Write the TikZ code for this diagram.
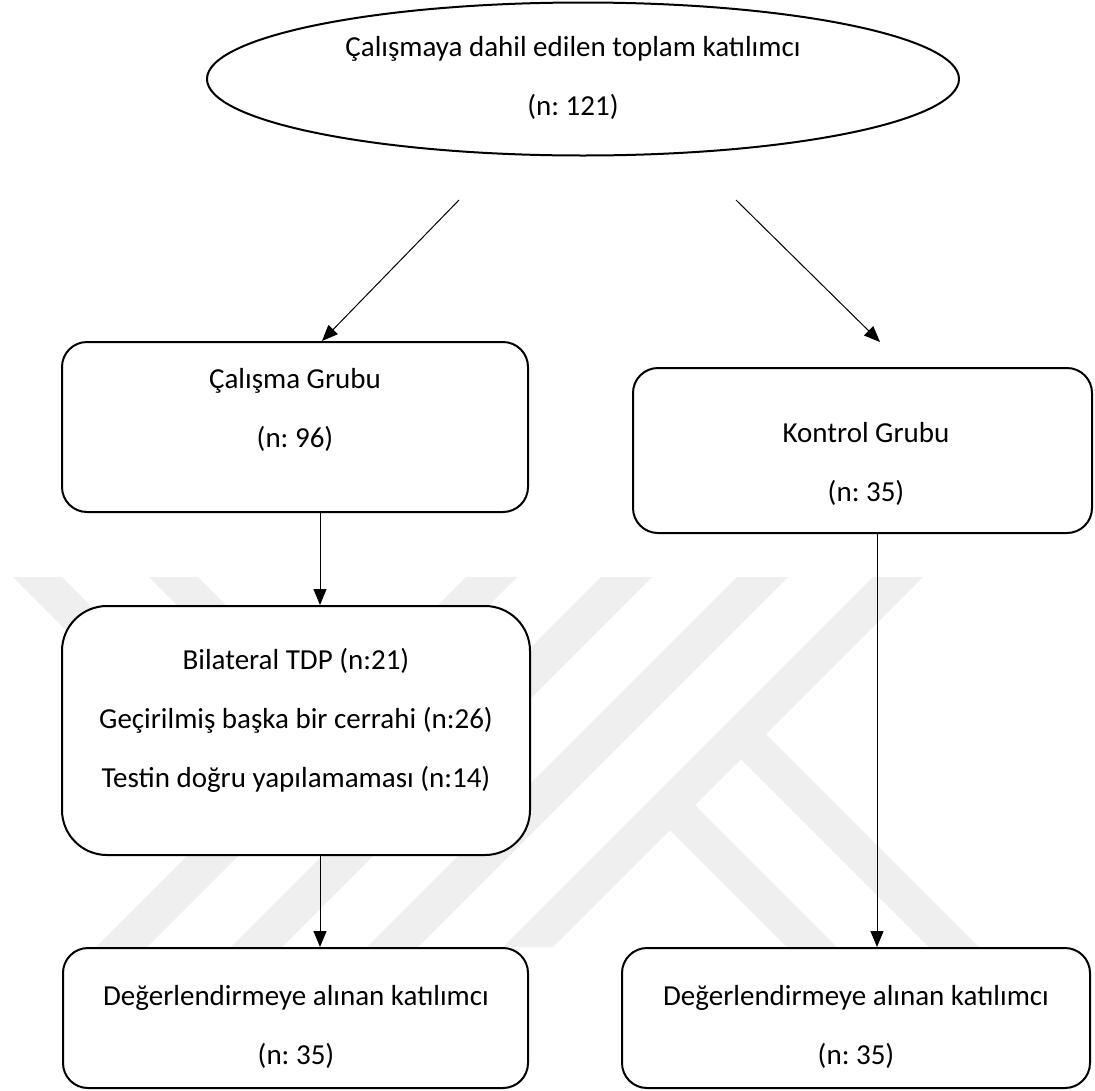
\documentclass[tikz,border=0pt]{standalone}
\usepackage{fontspec}
\setmainfont{Carlito}
\frenchspacing
\usetikzlibrary{shapes.geometric,arrows.meta}
\definecolor{wm}{RGB}{239,239,239}
\begin{document}
\begin{tikzpicture}[x=1pt,y=-1pt,
  box/.style={draw=black,line width=2pt,rounded corners=25pt,fill=white,inner sep=0pt},
  txt/.style={align=center,font=\fontsize{29}{59}\selectfont,inner sep=0pt},
  conn/.style={line width=1pt,-{Triangle[length=16pt,width=13pt]}},
  band/.style={fill=wm,draw=none}]
\useasboundingbox (0,0) rectangle (1095,1090);
\fill[white] (0,0) rectangle (1095,1090);
% watermark (faint background logo)
\fill[band] (466,577) -- (517,577) -- (147,947) -- (96,947) -- cycle;
\fill[band] (601,577) -- (652,577) -- (282,947) -- (231,947) -- cycle;
\fill[band] (737,577) -- (788,577) -- (418,947) -- (367,947) -- cycle;
\fill[band] (873,577) -- (923,577) -- (553,947) -- (503,947) -- cycle;
\fill[band] (753.5,721.5) -- (979,947) -- (929,947) -- (728.5,746.5) -- cycle;
\fill[band] (682.5,792.5) -- (837,947) -- (787,947) -- (657.5,817.5) -- cycle;
\fill[band] (62,577) -- (276.5,791.5) -- (252,816) -- (13,577) -- cycle;
\fill[band] (198,577) -- (344.5,723.5) -- (320,748) -- (149,577) -- cycle;
% nodes
\node[draw=black,line width=2pt,ellipse,minimum width=752pt,minimum height=153pt,inner sep=0pt] (top) at (583,79) {};
\node[txt] (toptxt) at (573,78) {Çalışmaya dahil edilen toplam katılımcı\\(n: 121)};
\node[box,minimum width=466pt,minimum height=170pt] (cg) at (295,427) {};
\node[txt] (cgtxt) at (295,409.5) {Çalışma Grubu\\(n: 96)};
\node[box,minimum width=459pt,minimum height=165pt] (kg) at (862.5,450.5) {};
\node[txt] (kgtxt) at (866,464) {Kontrol Grubu\\(n: 35)};
\node[box,rounded corners=45pt,minimum width=468pt,minimum height=249pt] (bil) at (296,730.5) {};
\node[txt] (biltxt) at (296,720) {Bilateral TDP (n:21)\\Geçirilmiş başka bir cerrahi (n:26)\\Testin doğru yapılamaması (n:14)};
\node[box,minimum width=465pt,minimum height=140pt] (bl) at (295.5,1018) {};
\node[txt] (bltxt) at (296,1027) {Değerlendirmeye alınan katılımcı\\(n: 35)};
\node[box,minimum width=468pt,minimum height=140pt] (br) at (856,1018) {};
\node[txt] (brtxt) at (856,1027) {Değerlendirmeye alınan katılımcı\\(n: 35)};
% connectors
\coordinate (la) at (459,200);
\coordinate (lx) at (322,0);
\coordinate (ra) at (736,200);
\coordinate (rb) at (880,342);
\coordinate (cx) at (320,0);
\coordinate (kx) at (877,0);
\draw[conn] (la) -- (lx |- cg.north);
\draw[conn] (ra) -- (rb);
\draw[conn] (cx |- cg.south) -- (cx |- bil.north);
\draw[conn] (cx |- bil.south) -- (cx |- bl.north);
\draw[conn] (kx |- kg.south) -- (kx |- br.north);
\end{tikzpicture}
\end{document}
